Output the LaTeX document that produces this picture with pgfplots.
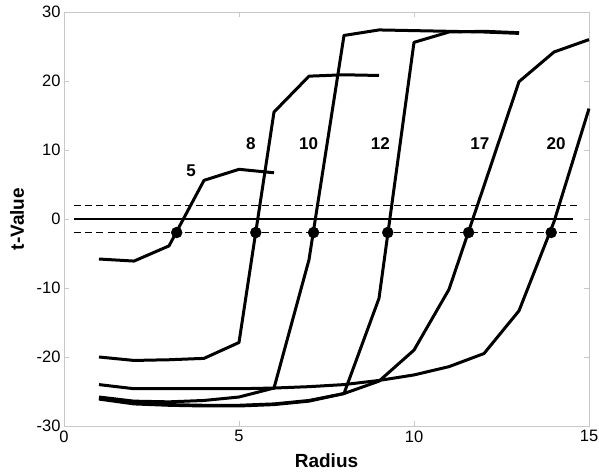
\documentclass[border=0pt]{standalone}
\usepackage{pgfplots}
\pgfplotsset{compat=1.18}
\usepackage{fontspec}
\setmainfont{Liberation Sans}
\usetikzlibrary{calc}
\definecolor{frameC}{HTML}{C8C8C8}

\begin{document}
\begin{tikzpicture}
\begin{axis}[
  name=ax, scale only axis,
  width=525pt, height=414pt,
  xmin=0, xmax=15, ymin=-30, ymax=30,
  xtick={0,5,10,15}, ytick={-30,-20,...,30},
  axis line style={draw=frameC,line width=.6pt},
  tick style={draw=frameC,line width=.6pt},
  tick align=inside, major tick length=5pt,
  /pgf/number format/assume math mode=true,
  ticklabel style={font=\fontsize{16.5}{18}\selectfont},
  xticklabel style={yshift=-1pt},
  xlabel={Radius}, ylabel={t-Value},
  label style={font=\fontsize{19}{22}\selectfont\bfseries},
  xlabel style={at={([yshift=-42pt]axis description cs:0.5,0)}, anchor=base},
  ylabel style={at={([xshift=-47pt]axis description cs:0,0.5)}, anchor=center},
  curve/.style={black, solid, mark=none, line width=3pt, line join=round},
  clip=false]

% reference lines
\addplot[black, mark=none, line width=1.4pt] coordinates {(0.3,0) (14.55,0)};
\addplot[black, mark=none, line width=1.7pt, dash pattern=on 7pt off 4pt] coordinates {(0.3,1.96) (14.65,1.96)};
\addplot[black, mark=none, line width=1.7pt, dash pattern=on 7pt off 4pt] coordinates {(0.3,-1.96) (14.65,-1.96)};

% radius 5
\addplot[curve] coordinates {(1,-5.8) (2,-6.1) (3,-3.9) (4,5.6) (5,7.2) (6,6.7)};
% radius 8
\addplot[curve] coordinates {(1,-20.0) (2,-20.5) (3,-20.4) (4,-20.2) (5,-17.9)
  (6,15.5) (7,20.7) (8,20.9) (9,20.8)};
% radius 10
\addplot[curve] coordinates {(1,-25.8) (2,-26.4) (3,-26.5) (4,-26.3) (5,-25.8)
  (6,-24.5) (7,-5.9) (8,26.6) (9,27.4) (10,27.3) (11,27.2) (12,27.1) (13,26.9)};
% radius 12
\addplot[curve] coordinates {(1,-26.0) (2,-26.7) (3,-26.9) (4,-27.0) (5,-27.0)
  (6,-26.8) (7,-26.3) (8,-25.3) (9,-11.5) (10,25.6) (11,27.1) (12,27.2) (13,27.0)};
% radius 17
\addplot[curve] coordinates {(1,-26.1) (2,-26.8) (3,-27.0) (4,-27.1) (5,-27.1)
  (6,-26.9) (7,-26.4) (8,-25.3) (9,-23.5) (10,-19.0) (11,-10.2) (12,4.8)
  (13,19.9) (14,24.2) (15,26.0)};
% radius 20
\addplot[curve] coordinates {(1,-24.0) (2,-24.6) (3,-24.6) (4,-24.6) (5,-24.6)
  (6,-24.5) (7,-24.3) (8,-24.0) (9,-23.4) (10,-22.6) (11,-21.4) (12,-19.5)
  (13,-13.3) (14,-0.4) (15,16.0)};

% crossing points
\addplot[black, only marks, mark=*, mark size=5.5pt] coordinates {
  (3.22,-1.96) (5.48,-1.96) (7.13,-1.96) (9.25,-1.96) (11.56,-1.96) (13.92,-1.96)};

\begin{scope}[every node/.style={font=\fontsize{17}{19}\selectfont\bfseries, inner sep=0pt}]
\node at (axis cs:3.63,6.93) {5};
\node at (axis cs:5.34,10.87) {8};
\node at (axis cs:6.99,10.87) {10};
\node at (axis cs:9.04,10.87) {12};
\node at (axis cs:11.88,10.87) {17};
\node at (axis cs:14.06,10.87) {20};
\end{scope}
\end{axis}
\pgfresetboundingbox
\path ($(ax.south west)+(-64pt,-48pt)$) rectangle ($(ax.north east)+(10pt,12pt)$);
\end{tikzpicture}
\end{document}
